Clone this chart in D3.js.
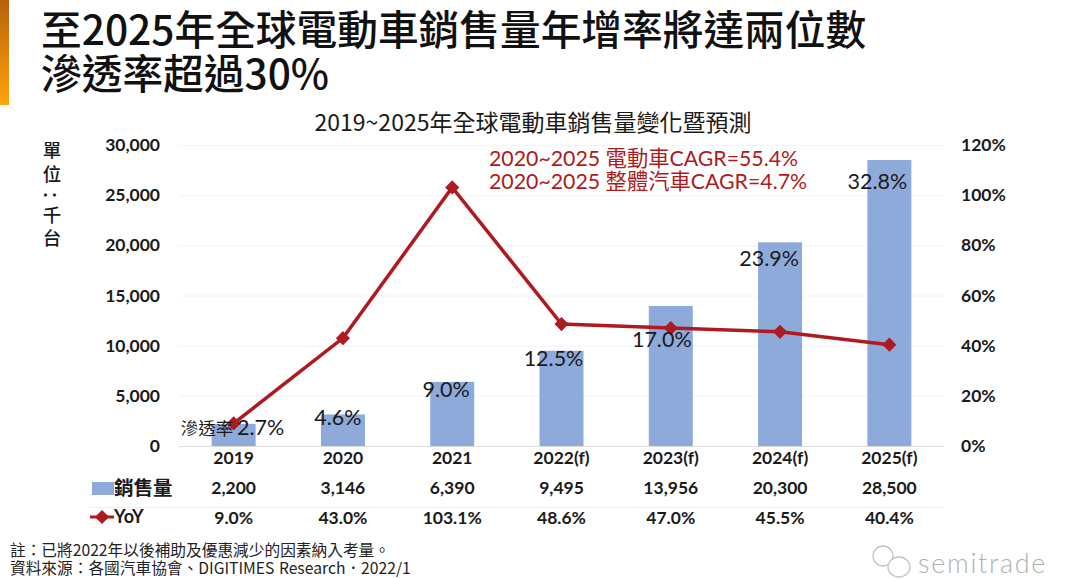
<!DOCTYPE html>
<html>
<head>
<meta charset="utf-8">
<title>2019~2025年全球電動車銷售量變化暨預測</title>
<style>
    html, body { margin: 0; padding: 0; background: #fff; }
    svg { display: block; }
    text { font-family: Lato, "Noto Sans CJK TC", sans-serif; fill: #1a1a1a; }
    .title { font-family: "Noto Sans CJK TC", sans-serif; font-size: 40.7px; font-weight: 500; fill: #111; }
    .axis .domain { display: none; }
    .axis line { display: none; }
    .axis text { font-size: 17.5px; font-weight: 700; }
    .cell { font-size: 17.5px; font-weight: 700; text-anchor: middle; }
    .pen { font-size: 21.5px; text-anchor: middle; }
    .note { font-family: "Noto Sans CJK TC", sans-serif; font-size: 15.7px; fill: #222; }
    .unit { font-family: "Noto Sans CJK TC", sans-serif; font-size: 18.5px; font-weight: 500; text-anchor: middle; }
</style>
</head>
<body>
<svg width="1080" height="579"></svg>
<script src="https://d3js.org/d3.v7.min.js"></script>
<script>
var categories = ["2019", "2020", "2021", "2022(f)", "2023(f)", "2024(f)", "2025(f)"];
var sales = [2200, 3146, 6390, 9495, 13956, 20300, 28500];
var yoy = [9.0, 43.0, 103.1, 48.6, 47.0, 45.5, 40.4];
var penetration = ["2.7%", "4.6%", "9.0%", "12.5%", "17.0%", "23.9%", "32.8%"];
var salesTicks = [0, 5000, 10000, 15000, 20000, 25000, 30000];
var yoyTicks = [0, 20, 40, 60, 80, 100, 120];

var svg = d3.select("svg"),
    margin = {top: 145, right: 136, bottom: 133, left: 179},
    width = 1080 - margin.left - margin.right,
    height = 579 - margin.top - margin.bottom,
    g = svg.append("g").attr("transform", "translate(" + margin.left + "," + margin.top + ")");

var red = "#ae1a20", blue = "#8eaadb";

// orange strip top left
var grad = svg.append("defs").append("linearGradient")
    .attr("id", "strip").attr("x1", 0).attr("x2", 0).attr("y1", 0).attr("y2", 1);
grad.append("stop").attr("offset", "0%").attr("stop-color", "#b9600f");
grad.append("stop").attr("offset", "100%").attr("stop-color", "#ffa408");
svg.append("rect").attr("width", 9).attr("height", 105).attr("fill", "url(#strip)");

svg.append("text").attr("class", "title").attr("x", 41).attr("y", 45).text("至2025年全球電動車銷售量年增率將達兩位數");
svg.append("text").attr("class", "title").attr("x", 41).attr("y", 89).text("滲透率超過30%");
svg.append("text").attr("x", 533).attr("y", 131).attr("text-anchor", "middle")
    .style("font-family", "'Noto Sans CJK TC'").style("font-size", "23px")
    .text("2019~2025年全球電動車銷售量變化暨預測");

var x = d3.scaleBand().domain(categories).range([0, width]);
var y = d3.scaleLinear().domain([0, 30000]).range([height, 0]);
var y2 = d3.scaleLinear().domain([0, 120]).range([height, 0]);
var barW = 44;
var cx = function (c) { return x(c) + x.bandwidth() / 2; };

// gridlines
g.append("g").selectAll("line").data(salesTicks).enter().append("line")
    .attr("x1", 0).attr("x2", width)
    .attr("y1", function (d) { return y(d) + 0.5; })
    .attr("y2", function (d) { return y(d) + 0.5; })
    .attr("stroke", function (d) { return d === 0 ? "#dcdcdc" : "#f4f4f4"; });

g.append("g").selectAll("rect").data(sales).enter().append("rect")
    .attr("x", function (d, i) { return cx(categories[i]) - barW / 2; })
    .attr("y", function (d) { return y(d); })
    .attr("width", barW)
    .attr("height", function (d) { return height - y(d); })
    .attr("fill", blue);

// axes
g.append("g").attr("class", "axis")
    .call(d3.axisLeft(y).tickValues(salesTicks).tickFormat(d3.format(",")).tickPadding(13));
g.append("g").attr("class", "axis").attr("transform", "translate(" + width + ",0)")
    .call(d3.axisRight(y2).tickValues(yoyTicks).tickFormat(function (d) { return d + "%"; }).tickPadding(11));
g.append("g").attr("class", "axis").attr("transform", "translate(0," + height + ")")
    .call(d3.axisBottom(x).tickPadding(0));

// yoy line
var line = d3.line()
    .x(function (d, i) { return cx(categories[i]); })
    .y(function (d) { return y2(d); });
g.append("path").datum(yoy).attr("d", line)
    .attr("fill", "none").attr("stroke", red).attr("stroke-width", 3.5);
g.append("g").selectAll("path").data(yoy).enter().append("path")
    .attr("d", d3.symbol(d3.symbolSquare, 100))
    .attr("transform", function (d, i) { return "translate(" + cx(categories[i]) + "," + y2(d) + ") rotate(45)"; })
    .attr("fill", red);

// penetration labels, each nudged off its bar top like the original slide
var penDx = [27, -5, -6, -8, -9, -11, -12];
var penDy = [11, 11, 15, 15, 41, 24, 29];
g.append("g").selectAll("text").data(penetration).enter().append("text")
    .attr("class", "pen")
    .attr("x", function (d, i) { return cx(categories[i]) + penDx[i]; })
    .attr("y", function (d, i) { return y(sales[i]) + penDy[i]; })
    .text(function (d) { return d; });
g.append("text").attr("x", cx(categories[0]) - 53).attr("y", y(sales[0]) + penDy[0])
    .style("font-family", "'Noto Sans CJK TC'").style("font-size", "17.5px").text("滲透率");

// CAGR note
svg.append("text").attr("x", 489).attr("y", 166)
    .style("font-size", "21.3px").style("fill", red).text("2020~2025 電動車CAGR=55.4%");
svg.append("text").attr("x", 489).attr("y", 189)
    .style("font-size", "21.3px").style("fill", red).text("2020~2025 整體汽車CAGR=4.7%");

// unit label, one glyph per line, colon turned sideways
svg.append("text").attr("class", "unit").attr("x", 52).attr("y", 157).text("單");
svg.append("text").attr("class", "unit").attr("x", 52).attr("y", 181).text("位");
svg.append("text").attr("class", "unit").attr("transform", "translate(50,195) rotate(90)").attr("dy", "0.36em").text("：");
svg.append("text").attr("class", "unit").attr("x", 52).attr("y", 222).text("千");
svg.append("text").attr("class", "unit").attr("x", 52).attr("y", 245).text("台");

// table below the axis
var fmt = d3.format(",");
g.append("g").selectAll("text").data(sales).enter().append("text")
    .attr("class", "cell")
    .attr("x", function (d, i) { return cx(categories[i]); })
    .attr("y", height + 48)
    .text(function (d) { return fmt(d); });
g.append("g").selectAll("text").data(yoy).enter().append("text")
    .attr("class", "cell")
    .attr("x", function (d, i) { return cx(categories[i]); })
    .attr("y", height + 78)
    .text(function (d) { return d.toFixed(1) + "%"; });
g.append("line").attr("x1", -90).attr("x2", width).attr("y1", height + 61.5).attr("y2", height + 61.5).attr("stroke", "#eeeeee");

// legend
svg.append("rect").attr("x", 92).attr("y", 482).attr("width", 22).attr("height", 13).attr("fill", blue);
svg.append("text").attr("x", 114).attr("y", 495)
    .style("font-family", "'Noto Sans CJK TC'").style("font-size", "19.5px").style("font-weight", 700).text("銷售量");
svg.append("line").attr("x1", 90).attr("x2", 114).attr("y1", 517).attr("y2", 517).attr("stroke", red).attr("stroke-width", 3);
svg.append("path").attr("d", d3.symbol(d3.symbolSquare, 100)).attr("transform", "translate(102,517) rotate(45)").attr("fill", red);
svg.append("text").attr("x", 114).attr("y", 523).style("font-size", "18px").style("font-weight", 700).text("YoY");

// footnotes
svg.append("text").attr("class", "note").attr("x", 10).attr("y", 556).text("註：已將2022年以後補助及優惠減少的因素納入考量。");
svg.append("text").attr("class", "note").attr("x", 10).attr("y", 574).style("word-spacing", "1px").text("資料來源：各國汽車協會、DIGITIMES Research．2022/1");

// watermark
svg.append("text").attr("x", 918).attr("y", 573)
    .style("font-size", "27px").style("font-weight", 300).style("fill", "#b0b0b0").style("letter-spacing", "1.7px").text("semitrade");
var wm = svg.append("g").attr("fill", "none").attr("stroke", "#c4c4c4").attr("stroke-width", 1.3);
wm.append("ellipse").attr("cx", 883).attr("cy", 556).attr("rx", 10).attr("ry", 10);
wm.append("ellipse").attr("cx", 899).attr("cy", 567).attr("rx", 11).attr("ry", 10).attr("fill", "#fff");
</script>
</body>
</html>
